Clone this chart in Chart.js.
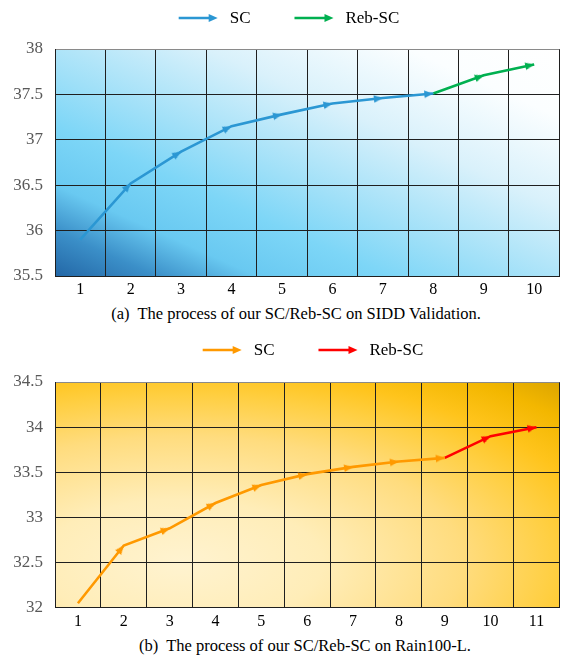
<!DOCTYPE html>
<html>
<head>
<meta charset="utf-8">
<script src="https://cdn.jsdelivr.net/npm/chart.js@4.4.0/dist/chart.umd.min.js"></script>
<style>
  html, body { margin: 0; padding: 0; background: #fff; }
  body { width: 567px; height: 658px; position: relative; overflow: hidden; font-family: "Liberation Serif", serif; }
  .wrap { position: absolute; left: 0; width: 567px; height: 300px; }
  .caption { position: absolute; left: 0; width: 567px; box-sizing: border-box; text-align: center;
             font-size: 16.5px; line-height: 20px; white-space: pre; color: #000; }
</style>
</head>
<body>
<div class="wrap" style="top:0"><canvas id="chartA" width="567" height="300"></canvas></div>
<div class="caption" style="top:304px; padding-left:25px">(a)  The process of our SC/Reb-SC on SIDD Validation.</div>
<div class="wrap" style="top:330px"><canvas id="chartB" width="567" height="300"></canvas></div>
<div class="caption" style="top:636px; padding-left:43px">(b)  The process of our SC/Reb-SC on Rain100-L.</div>

<script>
// (a) SIDD Validation
const stepsA = ['1', '2', '3', '4', '5', '6', '7', '8', '9', '10'];
const scA = [35.90, 36.52, 36.87, 37.15, 37.28, 37.40, 37.46, 37.51, null, null];
const rebA = [null, null, null, null, null, null, null, 37.51, 37.71, 37.83];
const yMinA = 35.5, yMaxA = 38;

// (b) Rain100-L
const stepsB = ['1', '2', '3', '4', '5', '6', '7', '8', '9', '10', '11'];
const scB = [32.05, 32.69, 32.88, 33.16, 33.36, 33.48, 33.56, 33.62, 33.66, null, null];
const rebB = [null, null, null, null, null, null, null, null, 33.66, 33.90, 34.00];
const yMinB = 32, yMaxB = 34.5;

const yStep = 0.5;
const fontFamily = "'Liberation Serif'";

// small arrowhead image, tip at the centre so it sits on the data point
function arrowHead(color) {
    const c = document.createElement('canvas');
    c.width = 20; c.height = 10;
    const g = c.getContext('2d');
    g.fillStyle = color;
    g.beginPath();
    g.moveTo(10, 5);
    g.lineTo(1, 1.2);
    g.lineTo(1, 8.8);
    g.closePath();
    g.fill();
    return c;
}

function isStart(ctx) {
    const i = ctx.dataIndex, d = ctx.dataset.data;
    return i === 0 || d[i - 1] == null;
}

// rotate the arrow along the segment that ends at this point
function arrowAngle(ctx) {
    if (isStart(ctx)) return 0;
    const i = ctx.dataIndex, d = ctx.dataset.data;
    const xs = ctx.chart.scales.x, ys = ctx.chart.scales.y;
    const dx = xs.getPixelForValue(i) - xs.getPixelForValue(i - 1);
    const dy = ys.getPixelForValue(d[i]) - ys.getPixelForValue(d[i - 1]);
    return Math.atan2(dy, dx) * 180 / Math.PI;
}

function lineDataset(label, data, color) {
    return {
        label: label,
        data: data,
        borderColor: color,
        backgroundColor: color,
        borderWidth: 2.6,
        tension: 0,
        pointStyle: arrowHead(color),
        pointRadius: ctx => isStart(ctx) ? 0 : 5,
        pointHoverRadius: ctx => isStart(ctx) ? 0 : 5,
        pointRotation: arrowAngle
    };
}

// plot background gradients, laid out in the plot box's own 0..1 coordinates
const plotBackground = {
    id: 'plotBackground',
    beforeDraw(chart, args, opts) {
        const { ctx, chartArea: a } = chart;
        const w = a.right - a.left, h = a.bottom - a.top;
        ctx.save();
        ctx.translate(a.left, a.top);
        ctx.scale(w, h);
        let g;
        if (opts.kind === 'blue') {
            g = ctx.createLinearGradient(0, 1, 1, 0);
            g.addColorStop(0, '#2367a6');
            g.addColorStop(0.1, '#3b8fc8');
            g.addColorStop(0.2, '#69c9f1');
            g.addColorStop(0.33, '#7dd6f7');
            g.addColorStop(0.45, '#a0e0f8');
            g.addColorStop(0.65, '#d9f1fb');
            g.addColorStop(0.85, '#fbfeff');
            g.addColorStop(1, '#ffffff');
        } else {
            g = ctx.createRadialGradient(0.25, 0.8, 0, 0.25, 0.8, 1.12);
            g.addColorStop(0, '#fff3d0');
            g.addColorStop(0.25, '#ffedb8');
            g.addColorStop(0.5, '#ffdc7e');
            g.addColorStop(0.66, '#ffcf42');
            g.addColorStop(0.76, '#ffc41c');
            g.addColorStop(0.88, '#f3b700');
            g.addColorStop(1, '#d6a100');
        }
        ctx.fillStyle = g;
        ctx.fillRect(0, 0, 1, 1);
        ctx.restore();
    }
};

// legend drawn as line + arrowhead followed by the label
const arrowLegend = {
    id: 'arrowLegend',
    afterDraw(chart, args, opts) {
        const ctx = chart.ctx;
        ctx.save();
        ctx.font = '17px ' + fontFamily;
        ctx.textBaseline = 'middle';
        const items = chart.data.datasets.map(ds => ({
            text: ds.label, color: ds.borderColor, w: ctx.measureText(ds.label).width
        }));
        const total = items.reduce((s, it) => s + opts.lineLength + opts.textGap + it.w, 0)
            + opts.itemGap * (items.length - 1);
        let x = opts.centerX - total / 2;
        const y = opts.y;
        items.forEach(it => {
            const x1 = x + opts.lineLength;
            ctx.strokeStyle = it.color;
            ctx.fillStyle = it.color;
            ctx.lineWidth = 2.6;
            ctx.beginPath();
            ctx.moveTo(x, y);
            ctx.lineTo(x1 - 6, y);
            ctx.stroke();
            ctx.beginPath();
            ctx.moveTo(x1, y);
            ctx.lineTo(x1 - 9, y - 4);
            ctx.lineTo(x1 - 9, y + 4);
            ctx.closePath();
            ctx.fill();
            ctx.fillStyle = '#000';
            ctx.fillText(it.text, x1 + opts.textGap, y + 1);
            x = x1 + opts.textGap + it.w + opts.itemGap;
        });
        ctx.restore();
    }
};

function makeChart(id, labels, sc, reb, scColor, rebColor, yMin, yMax, opts) {
    return new Chart(document.getElementById(id), {
        type: 'line',
        data: {
            labels: labels,
            datasets: [
                lineDataset('SC', sc, scColor),
                lineDataset('Reb-SC', reb, rebColor)
            ]
        },
        plugins: [plotBackground, arrowLegend],
        options: {
            responsive: false,
            animation: false,
            layout: { padding: { top: opts.top, right: 0, bottom: 0, left: 0 } },
            plugins: {
                legend: { display: false },
                tooltip: { enabled: false },
                plotBackground: { kind: opts.kind },
                arrowLegend: { centerX: opts.legendX, y: opts.legendY, lineLength: 39, textGap: 12, itemGap: 44 }
            },
            scales: {
                x: {
                    offset: true,
                    grid: { offset: true, color: '#1f1f1f', lineWidth: 1, drawTicks: false },
                    border: { color: '#1f1f1f', width: 1 },
                    ticks: { color: '#000', padding: 4, font: { family: fontFamily, size: 16 } },
                    afterFit: s => { s.height = opts.xHeight; }
                },
                y: {
                    min: yMin,
                    max: yMax,
                    grid: {
                        color: c => c.tick && c.tick.value === yMax ? '#8a8a8a' : '#1f1f1f',
                        lineWidth: 1,
                        drawTicks: false
                    },
                    border: { color: '#1f1f1f', width: 1 },
                    ticks: {
                        stepSize: yStep, color: '#595959', padding: 12,
                        font: { family: fontFamily, size: 17 },
                        callback: v => String(Math.round(v * 10) / 10)
                    },
                    afterFit: s => { s.width = 55; }
                }
            }
        }
    });
}

Chart.defaults.font.family = fontFamily;
makeChart('chartA', stepsA, scA, rebA, '#2b97d3', '#00b050', yMinA, yMaxA,
    { kind: 'blue', top: 49, xHeight: 24, legendX: 289, legendY: 18 });
makeChart('chartB', stepsB, scB, rebB, '#ff9900', '#ff0000', yMinB, yMaxB,
    { kind: 'gold', top: 52, xHeight: 21, legendX: 313, legendY: 20 });
</script>
</body>
</html>
